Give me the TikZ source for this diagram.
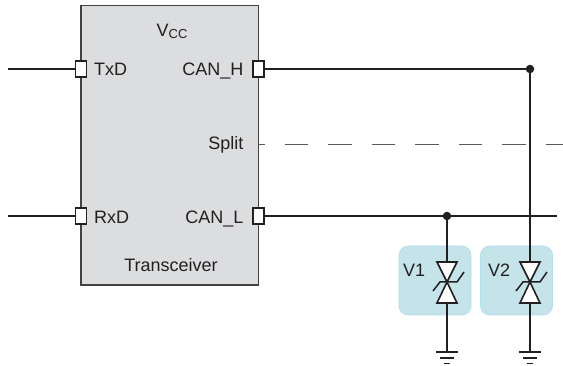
\documentclass[tikz,border=0pt]{standalone}
\usepackage{fontspec}
\setmainfont{Liberation Sans}
\definecolor{chipgray}{RGB}{220,221,223}
\definecolor{ink}{RGB}{35,31,32}
\definecolor{tvsfill}{RGB}{196,228,234}
\definecolor{tvsedge}{RGB}{178,222,236}
\tikzset{
  wire/.style={draw=ink,line width=1.9pt},
  chip/.style={draw=ink!85,fill=chipgray,line width=1.8pt,minimum width=177.5pt,minimum height=279.5pt,inner sep=0pt},
  pin/.style={draw=ink,fill=white,line width=1.8pt,minimum width=11pt,minimum height=16.5pt,inner sep=0pt},
  lbl/.style={text=ink,font=\fontsize{18pt}{20pt}\selectfont,inner sep=0pt},
  tvs/.style={draw=tvsedge,fill=tvsfill,line width=0.6pt,rounded corners=9pt,minimum width=72pt,minimum height=69pt,inner sep=0pt},
  dot/.style={circle,fill=ink,inner sep=0pt,minimum size=8.5pt},
  tri/.style={draw=ink,fill=white,line width=1.6pt,line join=miter},
  splitline/.style={draw=ink!75,line width=0.9pt,dash pattern=on 23.5pt off 20pt,dash phase=17.5pt},
  gnd/.style={draw=ink,line width=1.6pt}
}
\newcommand{\zener}[1]{%
  \draw[tri] (#1-10,262) -- (#1+10,262) -- (#1,282) -- cycle;
  \draw[tri] (#1-10,303) -- (#1+10,303) -- (#1,282) -- cycle;
  \draw[draw=ink,line width=1.5pt] (#1-14,291) -- (#1-7,282) -- (#1+10,282) -- (#1+17,272);
}
\newcommand{\earth}[1]{%
  \draw[gnd] (#1-11,352) -- (#1+11,352);
  \draw[gnd] (#1-7,358) -- (#1+7,358);
  \draw[gnd] (#1-3,363.5) -- (#1+3,363.5);
}
\begin{document}
\begin{tikzpicture}[x=1pt,y=-1pt]
\useasboundingbox (0,0) rectangle (563,366);
\node[chip] (ic) at (169.75,145.25) {};
\node[lbl] (vcc) at (172,31.5) {V\raisebox{-0.25ex}{\fontsize{13pt}{14pt}\selectfont CC}};
\node[lbl,anchor=base west] (txd) at (94,76) {TxD};
\node[lbl,anchor=base west] (rxd) at (94,224) {RxD};
\node[lbl,anchor=base east] (canh) at (243.5,76) {CAN\_H};
\node[lbl,anchor=base east] (canl) at (243.5,224) {CAN\_L};
\node[lbl,anchor=base east] (split) at (243.5,150) {Split};
\node[lbl] (trans) at (171,265.5) {Transceiver};
\node[pin] (ptx) at (81,69) {};
\node[pin] (prx) at (81,216) {};
\node[pin] (pch) at (258.5,69) {};
\node[pin] (pcl) at (258.5,216) {};
\coordinate (lt) at (8,69);
\coordinate (lr) at (8,216);
\coordinate (re) at (557,216);
\coordinate (sp) at (258.5,144);
\coordinate (se) at (563,144);
\node[dot] (d2) at (530,69) {};
\node[dot] (d1) at (447,216) {};
\node[tvs] (v1) at (435,280.5) {};
\node[tvs] (v2) at (516.5,280.5) {};
\coordinate (g1) at (447,352);
\coordinate (g2) at (530,352);
\draw[wire] (lt) -- (ptx);
\draw[wire] (lr) -- (prx);
\draw[wire] (pch) -- (d2);
\draw[wire] (pcl) -- (re);
\draw[splitline] (sp) -- (se);
\draw[wire] (d2) -- (g2);
\draw[wire] (d1) -- (g1);
\zener{447}
\zener{530}
\earth{447}
\earth{530}
\node[lbl,anchor=base west] (t1) at (403,277) {V1};
\node[lbl,anchor=base west] (t2) at (488,277) {V2};
\end{tikzpicture}
\end{document}
